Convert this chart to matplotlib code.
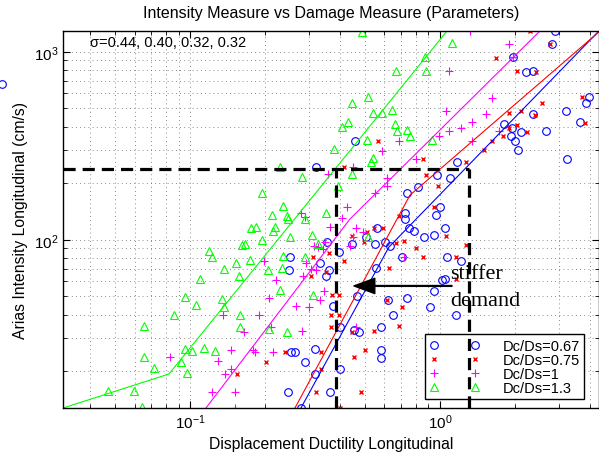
import matplotlib
matplotlib.use("Agg")
import matplotlib.pyplot as plt
import numpy as np

plt.rcParams['font.family'] = ['Liberation Sans', 'DejaVu Sans']

# data, stored as log10 values
# (displacement ductility, arias intensity in cm/s)
blue_lx = [0.46, 0.448, 0.292, 0.344, 0.372, 0.372, 0.504, 0.596, 0.584, 0.56,
           0.256, 0.288, 0.324, 0.424, 0.284, 0.30, 0.312, 0.508, 0.068, 0.04,
           -0.34, -0.496, -0.132, -0.088, -0.012, 0.0, -0.016, -0.14, -0.252, -0.14,
           -0.124, -0.104, -0.064, -0.024, -0.452, -0.352, -0.296, -0.26, -0.22, -0.20,
           -0.404, -0.60, -0.152, -0.48, -0.444, -0.604, -0.456, -0.256, 0.008, -0.024,
           -0.132, -0.208, -0.332, -0.428, -0.04, -0.188, -0.236, -0.40, -0.344, -0.324,
           -0.50, -0.596, -0.58, -0.236, -0.236, -0.54, -0.40, -0.50, -0.608, -0.44,
           -0.556, 0.02, 0.028, 0.084, 0.02, 0.064]
blue_ly = [3.11, 3.041, 2.972, 2.892, 2.897, 2.669, 2.685, 2.759, 2.727, 2.626,
           2.615, 2.594, 2.573, 2.578, 2.552, 2.525, 2.477, 2.429, 2.413, 2.328,
           2.525, 2.387, 2.248, 2.280, 2.344, 2.174, 2.131, 2.142, 2.062, 2.110,
           2.062, 2.046, 2.014, 2.025, 1.988, 1.977, 2.014, 1.977, 1.988, 1.966,
           1.934, 1.908, 1.908, 1.876, 1.839, 1.839, 1.807, 1.849, 1.786, 1.727,
           1.690, 1.679, 1.701, 1.647, 1.642, 1.600, 1.536, 1.536, 1.520, 1.509,
           1.419, 1.403, 1.403, 1.413, 1.371, 1.350, 1.312, 1.286, 1.190, 1.190,
           1.105, 2.062, 1.908, 1.887, 1.791, 1.600]
blue_out_lx = [-1.752]
blue_out_ly = [2.828]

red_lx = [0.36, 0.44, 0.224, 0.308, 0.384, 0.408, 0.568, 0.58, 0.276, 0.324,
          0.38, 0.308, 0.276, 0.348, 0.252, 0.208, 0.176, 0.104, -0.248, -0.384,
          -0.068, -0.056, -0.008, -0.024, -0.164, -0.264, -0.228, -0.292, -0.352, -0.304,
          -0.176, -0.144, -0.096, -0.508, -0.444, -0.384, -0.068, -0.456, -0.204, -0.516,
          -0.432, -0.404, -0.152, -0.212, -0.436, -0.404, -0.164, -0.264, -0.436, -0.352,
          -0.696, -0.62, -0.476, -0.344, -0.30, -0.476, -0.316, -0.496, -0.40, 0.024,
          0.104, 0.064, 0.064, -0.812]
red_ly = [3.11, 3.041, 2.966, 2.897, 2.892, 2.727, 2.759, 2.621, 2.674, 2.685,
          2.663, 2.610, 2.594, 2.573, 2.552, 2.525, 2.477, 2.413, 2.525, 2.387,
          2.429, 2.344, 2.286, 2.174, 2.126, 2.062, 2.062, 2.041, 2.020, 1.988,
          1.982, 1.993, 1.956, 1.908, 1.929, 1.887, 1.908, 1.828, 1.849, 1.807,
          1.706, 1.706, 1.642, 1.679, 1.600, 1.600, 1.541, 1.515, 1.536, 1.509,
          1.350, 1.403, 1.403, 1.376, 1.413, 1.312, 1.190, 1.190, 1.105, 2.020,
          1.972, 1.908, 1.791, 1.286]

mag_lx = [0.12, 0.276, 0.292, 0.036, 0.208, 0.024, 0.184, 0.128, 0.084, 0.036,
          0.236, 0.128, -0.164, -0.232, -0.096, -0.348, -0.448, -0.212, -0.212, -0.26,
          -0.372, -0.556, -0.54, -0.392, -0.004, -0.44, -0.336, -0.348, -0.308, -0.46,
          -0.504, -0.488, -0.468, -0.36, -0.704, -0.536, -0.516, -0.548, -0.496, -0.656,
          -0.464, -0.684, -0.48, -0.724, -0.576, -0.524, -0.552, -0.144, -0.336, -0.74,
          -0.668, -0.676, -0.868, -0.784, -1.08, -0.836, -0.888, -0.836, -0.86, -0.912,
          -0.82, -0.82, -0.748]
mag_ly = [3.11, 3.041, 2.972, 2.897, 2.754, 2.685, 2.669, 2.626, 2.594, 2.578,
          2.578, 2.525, 2.525, 2.472, 2.429, 2.387, 2.349, 2.328, 2.286, 2.248,
          2.174, 2.142, 2.121, 2.115, 2.552, 2.068, 2.062, 2.014, 2.041, 1.988,
          1.966, 1.961, 1.951, 1.966, 1.887, 1.876, 1.844, 1.807, 1.839, 1.786,
          1.727, 1.690, 1.679, 1.600, 1.647, 1.642, 1.515, 1.908, 1.536, 1.403,
          1.403, 1.536, 1.600, 1.510, 1.376, 1.413, 1.355, 1.312, 1.286, 1.190,
          1.190, 1.105, 1.413]

green_lx = [-0.312, -0.06, -0.176, -0.056, -0.288, -0.352, -0.268, -0.232, -0.192, -0.368,
            -0.392, -0.18, -0.172, -0.132, -0.12, -0.032, -0.292, -0.424, -0.268, -0.276,
            -0.64, -0.552, -0.352, -0.408, -0.712, -0.628, -0.672, -0.612, -0.456, 0.048,
            -0.756, -0.78, -0.792, -0.924, -0.912, -0.816, -0.76, -0.864, -0.804, -0.96,
            -1.02, -0.976, -0.872, -0.864, -1.064, -0.80, -0.80, -1.184, -1.02, -0.992,
            -0.944, -0.90, -1.184, -1.036, -1.144, -1.012, -1.328, -1.224, -1.192, -0.66,
            -0.736, -0.608, -0.54, -0.668, -0.712, -0.60, -0.512, -0.488, -0.628, -0.54,
            -0.632, -0.688, -0.64, -0.508, -0.684, -0.612, -0.288]
green_ly = [3.105, 2.972, 2.897, 2.897, 2.759, 2.727, 2.674, 2.674, 2.690, 2.626,
            2.599, 2.615, 2.578, 2.584, 2.552, 2.530, 2.530, 2.482, 2.435, 2.413,
            2.387, 2.334, 2.349, 2.286, 2.248, 2.179, 2.131, 2.126, 2.142, 3.046,
            2.062, 1.977, 1.972, 1.940, 1.908, 1.876, 1.892, 1.844, 1.807, 1.791,
            1.695, 1.652, 1.684, 1.642, 1.600, 1.600, 1.536, 1.541, 1.419, 1.408,
            1.424, 1.408, 1.376, 1.350, 1.318, 1.291, 1.195, 1.195, 1.110, 2.068,
            2.068, 2.110, 2.110, 2.046, 1.998, 2.014, 2.025, 1.977, 1.913, 1.908,
            1.850, 1.839, 1.732, 1.706, 1.525, 1.509, 2.014]

# bilinear fits (log10 breakpoints)
blue_fit_lx = [-0.556, -0.204, 0.636]
blue_fit_ly = [1.105, 1.961, 3.11]
red_fit_lx = [-0.58, -0.12, 0.64]
red_fit_ly = [1.105, 2.237, 3.11]
mag_fit_lx = [-0.936, -0.36, 0.40]
mag_fit_ly = [1.105, 2.11, 3.11]
green_fit_lx = [-1.508, -1.084, 0.028]
green_fit_ly = [1.105, 1.286, 3.11]

labels = ['Dc/Ds=0.67', 'Dc/Ds=0.75', 'Dc/Ds=1', 'Dc/Ds=1.3']
sigma_text = '\u03c3=0.44, 0.40, 0.32, 0.32'

capacity_ia = 238.0
demand_mu = [0.384, 1.31]
arrow_from = (1.117, 56.8)
arrow_to = (0.453, 56.8)

xlim = (0.03105, 4.33)
ylim = (12.74, 1289)

BLUE, RED, MAG, GREEN = (0, 0, 1), (1, 0, 0), (1, 0, 1), (0, 1, 0)

fig = plt.figure(figsize=(5.99, 4.56), dpi=100)
ax = fig.add_axes([63/599, 47/456, 536/599, 377/456])
ax.set_xscale('log')
ax.set_yscale('log')

def p(a):
    return 10 ** np.array(a)

h1, = ax.plot(p(blue_lx), p(blue_ly), 'o', ls='none', mfc='none', mec=BLUE, ms=5.5, mew=0.8)
ax.plot(p(blue_out_lx), p(blue_out_ly), 'o', ls='none', mfc='none', mec=BLUE, ms=5.5, mew=0.8, clip_on=False)
h2, = ax.plot(p(red_lx), p(red_ly), 'x', ls='none', color=RED, ms=3.5, mew=1.0)
h3, = ax.plot(p(mag_lx), p(mag_ly), '+', ls='none', color=MAG, ms=6, mew=0.8)
h4, = ax.plot(p(green_lx), p(green_ly), '^', ls='none', mfc='none', mec=GREEN, ms=6, mew=0.8)

ax.plot(p(blue_fit_lx), p(blue_fit_ly), color=BLUE, lw=0.8)
ax.plot(p(red_fit_lx), p(red_fit_ly), color=RED, lw=0.8)
ax.plot(p(mag_fit_lx), p(mag_fit_ly), color=MAG, lw=0.8)
ax.plot(p(green_fit_lx), p(green_fit_ly), color=GREEN, lw=0.8)

# capacity / demand box
dash = dict(color='k', lw=2.3, dashes=(3.8, 2.2), zorder=6)
ax.plot([xlim[0], demand_mu[1]], [capacity_ia, capacity_ia], **dash)
for d in demand_mu:
    ax.plot([d, d], [ylim[0], capacity_ia], **dash)

ax.annotate('', xy=arrow_to, xytext=arrow_from,
            arrowprops=dict(facecolor='k', edgecolor='k', width=0.6, headwidth=11,
                            headlength=15, shrink=0))
ax.text(1.10, 66, 'stiffer', family='Liberation Serif', fontsize=16, va='center', ha='left')
ax.text(1.10, 47.5, 'demand', family='Liberation Serif', fontsize=16, va='center', ha='left')

ax.text(0.05, 0.96, sigma_text, transform=ax.transAxes, fontsize=10.5, va='baseline')

ax.set_xlim(*xlim)
ax.set_ylim(*ylim)
ax.grid(True, which='both', color='0.4', linestyle=(0, (1, 4)), lw=0.6)
ax.tick_params(which='both', direction='in', top=True, right=True, labelsize=11)
ax.tick_params(which='major', length=5)
ax.tick_params(which='minor', length=3)
for s in ax.spines.values():
    s.set_linewidth(1.0)

ax.set_title('Intensity Measure vs Damage Measure (Parameters)', fontsize=11.5, pad=10)
ax.set_xlabel('Displacement Ductility Longitudinal', fontsize=11.3, labelpad=3)
ax.set_ylabel('Arias Intensity Longitudinal (cm/s)', fontsize=11.3, labelpad=4)

leg = ax.legend([h1, h2, h3, h4], labels, numpoints=2, loc='lower left',
                bbox_to_anchor=((425 - 63) / 536, 9 / 377), borderaxespad=0,
                fontsize=10.5, handlelength=3.4, handletextpad=1.6, labelspacing=0.0,
                borderpad=0.3, fancybox=False, framealpha=1, edgecolor='k')
leg.get_frame().set_linewidth(1.0)

fig.savefig('out.png', dpi=100)
